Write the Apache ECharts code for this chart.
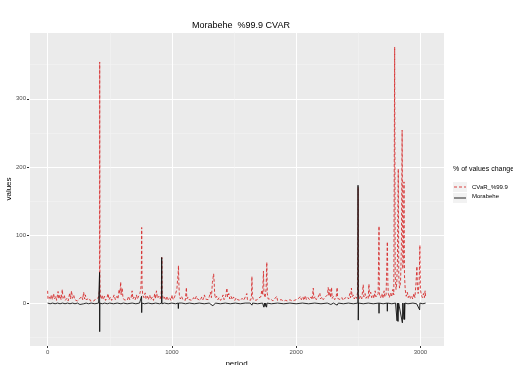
<!DOCTYPE html>
<html>
<head>
<meta charset="utf-8">
<script src="https://cdn.jsdelivr.net/npm/echarts@6/dist/echarts.min.js"></script>
<style>
  html, body { margin: 0; padding: 0; background: #fff; }
  #myChart { width: 513px; height: 365px; }
</style>
</head>
<body>
<div id="myChart"></div>
<script>
// [period, value] points
var cvarPoints = [
  [0, 18], [3, 6], [15, 9], [22, 5], [30, 12], [38, 5], [48, 14], [55, 6], [66, 10], [72, 4], [84, 17], [90, 6],
  [100, 12], [108, 5], [118, 20], [124, 7], [135, 11], [142, 4], [155, 7], [165, 3], [178, 15], [185, 6], [192, 18],
  [200, 7], [210, 12], [218, 5], [228, 4], [240, 3], [255, 6], [262, 4], [275, 10], [282, 5], [290, 16], [297, 6],
  [304, 12], [310, 5], [320, 4], [335, 7], [345, 3], [360, 5], [372, 3], [385, 6], [398, 4], [410, 8], [418, 20],
  [419, 354], [421, 30], [425, 9],
  [432, 6], [440, 12], [448, 5], [458, 10], [466, 4], [478, 8], [486, 14], [494, 5], [505, 9], [515, 4], [525, 7],
  [535, 12], [545, 5], [558, 10], [566, 6], [575, 20], [582, 14], [588, 31], [592, 12], [600, 22], [606, 8], [615, 5],
  [628, 7], [640, 4], [652, 10], [660, 5], [672, 8], [680, 18], [686, 6], [695, 9], [705, 5], [715, 12], [722, 6],
  [732, 8], [742, 14], [750, 20], [754, 40], [757, 111], [760, 25], [765, 12],
  [775, 8], [785, 15], [792, 6], [802, 10], [810, 5], [822, 12], [830, 5], [842, 9], [852, 4], [862, 14], [868, 6],
  [876, 18], [884, 7], [895, 10], [905, 6], [914, 12], [919, 67], [922, 15], [930, 6], [940, 9], [950, 4], [962, 10],
  [970, 5], [982, 8], [992, 4], [1002, 12], [1010, 5], [1020, 8], [1030, 14], [1040, 20], [1046, 35], [1050, 42],
  [1053, 55], [1056, 30], [1060, 12],
  [1068, 6], [1078, 10], [1088, 5], [1098, 7], [1108, 4], [1117, 23], [1120, 6], [1130, 9], [1140, 5], [1152, 7],
  [1162, 4], [1175, 8], [1185, 5], [1197, 10], [1205, 6], [1215, 8], [1228, 4], [1240, 9], [1250, 5], [1262, 12],
  [1270, 6], [1282, 8], [1292, 5], [1302, 10], [1310, 16], [1318, 8], [1326, 30], [1332, 38], [1336, 43], [1340, 32],
  [1344, 14], [1350, 7],
  [1360, 10], [1370, 5], [1380, 8], [1392, 4], [1402, 7], [1412, 12], [1420, 5], [1432, 9], [1443, 22], [1448, 9],
  [1458, 14], [1466, 6], [1476, 10], [1486, 5], [1496, 9], [1506, 4], [1518, 8], [1528, 5], [1540, 6], [1552, 4],
  [1565, 7], [1578, 4], [1590, 6], [1603, 14], [1608, 5], [1620, 6], [1632, 4], [1640, 8], [1644, 39], [1648, 10],
  [1656, 5],
  [1668, 6], [1680, 4], [1692, 7], [1704, 5], [1715, 9], [1724, 19], [1730, 12], [1737, 47], [1741, 14], [1750, 8],
  [1758, 20], [1764, 60], [1768, 14], [1775, 6], [1786, 4], [1798, 6],
  [1812, 3], [1825, 5], [1844, 10], [1850, 4], [1865, 3], [1880, 5], [1898, 3], [1915, 4], [1932, 3], [1950, 5],
  [1968, 3], [1985, 4], [2000, 3], [2015, 6], [2025, 4], [2035, 10], [2042, 5], [2055, 9], [2062, 4], [2075, 11],
  [2082, 5], [2095, 8],
  [2108, 5], [2120, 9], [2128, 5], [2138, 22], [2142, 7], [2152, 10], [2162, 5], [2175, 8], [2185, 6], [2191, 15],
  [2196, 6], [2208, 9], [2218, 5], [2230, 8], [2240, 6], [2252, 12], [2258, 23], [2264, 10], [2272, 20], [2278, 8],
  [2285, 23], [2290, 7], [2300, 10], [2310, 5], [2322, 8], [2330, 23], [2334, 7], [2345, 9], [2355, 5], [2368, 8],
  [2378, 4], [2390, 7], [2400, 5], [2412, 9], [2422, 6], [2432, 14], [2438, 8], [2445, 22], [2450, 9], [2460, 12],
  [2468, 6], [2478, 10], [2486, 7], [2494, 15], [2499, 170], [2502, 12], [2508, 6],
  [2518, 10], [2528, 6], [2540, 27], [2545, 9], [2555, 14], [2562, 7], [2572, 10], [2580, 7], [2586, 28], [2590, 10],
  [2600, 16], [2608, 8], [2618, 12], [2626, 7], [2636, 18], [2642, 9], [2652, 10], [2660, 14], [2667, 113], [2670, 12],
  [2680, 8], [2690, 14], [2698, 7], [2708, 18], [2714, 9], [2724, 12], [2734, 90], [2738, 30], [2742, 14], [2750, 8],
  [2760, 15], [2768, 9], [2778, 20], [2786, 12], [2793, 376], [2797, 40], [2804, 20], [2810, 30], [2815, 60],
  [2822, 197], [2826, 40], [2832, 22], [2840, 30], [2847, 80], [2853, 254], [2858, 50], [2863, 60], [2868, 178],
  [2872, 40], [2878, 20], [2886, 10], [2895, 16], [2902, 8], [2912, 12], [2920, 7], [2930, 10], [2938, 6], [2948, 14],
  [2956, 8], [2965, 30], [2972, 54], [2976, 25], [2982, 14], [2990, 30], [2996, 85], [3000, 20], [3008, 12],
  [3016, 8], [3025, 14], [3032, 8], [3038, 18], [3042, 10]
]

var morabehePoints = [
  [0, 0], [20, -1], [40, 0], [60, -1], [80, 0], [100, -1], [120, 0], [140, -1], [160, 0], [180, -1], [200, 0],
  [220, -1], [240, 0], [260, -2], [270, 0], [290, -1], [310, 0], [330, -1], [350, 0], [380, -1], [410, 0], [417, 0],
  [418, 45], [419, -42], [420, 0], [440, -1], [460, 0], [480, -1], [500, 0], [530, -1], [560, 0], [590, -1],
  [600, -3], [610, 0], [640, -1], [680, 0], [710, -1], [740, 0], [755, 0], [756, 10], [757, -14], [758, 0],
  [780, -1], [810, 0], [840, -1], [870, 0], [900, -1], [917, 0], [918, 67], [920, -1], [940, 0], [970, -1],
  [1000, 0], [1030, -1], [1050, 0], [1052, -8], [1054, 0], [1080, 0], [1110, -1], [1140, 0], [1180, -1], [1220, 0],
  [1260, -1], [1300, 0], [1330, -4], [1336, -5], [1342, -3], [1350, 0], [1390, -1], [1430, 0], [1470, -1],
  [1510, 0], [1550, -1], [1590, 0], [1630, 0], [1644, -3], [1650, 0], [1690, -1], [1730, 0], [1740, -6],
  [1745, 0], [1750, -5], [1755, 0], [1762, -6], [1766, 0], [1800, -1], [1850, 0], [1900, -1], [1950, 0],
  [2000, -1], [2050, 0], [2100, -1], [2150, 0], [2200, -1], [2250, 0], [2280, -2], [2300, 0], [2330, -3],
  [2340, 0], [2380, -1], [2420, 0], [2460, -1], [2497, 0], [2498, 173], [2500, -25], [2502, 0], [2540, -1],
  [2580, 0], [2620, -1], [2666, 0], [2667, -15], [2668, 0], [2700, -1], [2733, 0], [2734, -12], [2735, 0],
  [2770, -1], [2800, 0], [2812, -26], [2815, 0], [2820, -27], [2825, 0], [2840, 0], [2855, -29], [2858, 0],
  [2868, -24], [2870, 0], [2873, -24], [2876, 0], [2900, -1], [2940, 0], [2970, -1], [2994, -10], [2996, 0],
  [3020, -1], [3042, 0]
]

var seriesNames = ['CVaR_%99.9', 'Morabehe']
var seriesColors = ['#d62d2d', '#111111']

let myChart = echarts.init(document.getElementById('myChart'))
let font = 'Liberation Sans'
let labelColor = '#4d4d4d'

let option = {
  animation: false,
  backgroundColor: '#ffffff',
  textStyle: { fontFamily: font },
  title: [{
    text: 'Morabehe  %99.9 CVAR',
    left: 236,
    textAlign: 'center',
    top: 16,
    textStyle: { fontSize: 9, fontWeight: 'normal', color: '#000', fontFamily: font }
  }, {
    text: '% of values change',
    left: 453,
    top: 166,
    padding: 0,
    textStyle: { fontSize: 7, fontWeight: 'normal', color: '#000', fontFamily: font }
  }],
  // legend keys drawn by hand (grey box + line sample)
  graphic: [
    { type: 'rect', shape: { x: 453, y: 182, width: 14, height: 10 }, style: { fill: '#f2f2f2' }, z: 0 },
    { type: 'rect', shape: { x: 453, y: 193, width: 14, height: 10 }, style: { fill: '#f2f2f2' }, z: 0 },
    { type: 'line', shape: { x1: 454, y1: 187, x2: 466, y2: 187 }, style: { stroke: seriesColors[0], lineWidth: 0.9, lineDash: [3, 2] }, z: 1 },
    { type: 'line', shape: { x1: 454, y1: 198, x2: 466, y2: 198 }, style: { stroke: seriesColors[1], lineWidth: 0.9 }, z: 1 }
  ],
  legend: {
    orient: 'vertical',
    left: 453,
    top: 182,
    padding: 0,
    icon: 'none',
    itemWidth: 14,
    itemHeight: 10,
    itemGap: 1,
    textStyle: { fontSize: 6, color: '#000', fontFamily: font },
    data: seriesNames
  },
  grid: {
    left: 29,
    right: 69,
    top: 32,
    bottom: 19,
    outerBoundsMode: 'none',
    containLabel: false,
    show: true,
    backgroundColor: '#ebebeb',
    borderWidth: 0
  },
  xAxis: {
    type: 'value',
    min: -150,
    max: 3190,
    splitNumber: 3,
    name: 'period',
    nameLocation: 'middle',
    nameGap: 14,
    nameMoveOverlap: false,
    nameTextStyle: { fontSize: 8, color: '#000' },
    axisLine: { show: false, onZero: false },
    axisTick: { show: true, length: 2, lineStyle: { color: '#333' } },
    axisLabel: {
      fontSize: 6, color: labelColor, margin: 3, showMinLabel: false, showMaxLabel: false,
      formatter: function (v) { return String(v) }
    },
    splitLine: { show: true, lineStyle: { color: '#ffffff', width: 1 } },
    minorTick: { show: false, splitNumber: 2 },
    minorSplitLine: { show: true, lineStyle: { color: '#f5f5f5', width: 0.5 } }
  },
  yAxis: {
    type: 'value',
    min: -63,
    max: 398,
    splitNumber: 4,
    name: 'values',
    nameLocation: 'middle',
    nameGap: 16,
    nameMoveOverlap: false,
    nameRotate: 90,
    nameTextStyle: { fontSize: 8, color: '#000' },
    axisLine: { show: false, onZero: false },
    axisTick: { show: true, length: 2, lineStyle: { color: '#333' } },
    axisLabel: { fontSize: 6, color: labelColor, margin: 3, showMinLabel: false, showMaxLabel: false },
    splitLine: { show: true, lineStyle: { color: '#ffffff', width: 1 } },
    minorTick: { show: false, splitNumber: 2 },
    minorSplitLine: { show: true, lineStyle: { color: '#f5f5f5', width: 0.5 } }
  },
  series: [{
    name: seriesNames[0],
    type: 'line',
    symbol: 'none',
    data: cvarPoints,
    lineStyle: { color: seriesColors[0], width: 0.9, type: [3, 2] },
    itemStyle: { color: seriesColors[0] }
  }, {
    name: seriesNames[1],
    type: 'line',
    symbol: 'none',
    data: morabehePoints,
    lineStyle: { color: seriesColors[1], width: 0.9 },
    itemStyle: { color: seriesColors[1] }
  }]
}

myChart.setOption(option, true)
window.addEventListener('resize', function () {
  myChart.resize()
})
</script>
</body>
</html>
